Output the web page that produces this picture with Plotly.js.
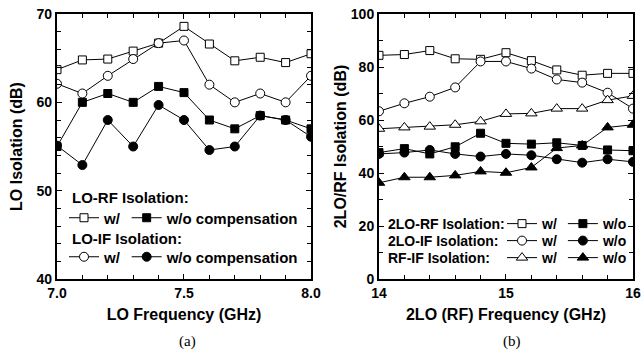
<!DOCTYPE html>
<html>
<head>
<meta charset="utf-8">
<script src="https://cdn.plot.ly/plotly-3.0.1.min.js"></script>
<style>html,body{margin:0;padding:0;background:#fff;}#chart{width:643px;height:350px;}</style>
</head>
<body>
<div id="chart"></div>
<script>
// (a) LO frequency sweep
const loFreq = [7.0, 7.1, 7.2, 7.3, 7.4, 7.5, 7.6, 7.7, 7.8, 7.9, 8.0];
const loRfWith    = [63.7, 64.8, 64.9, 65.8, 66.7, 68.6, 66.6, 64.7, 65.1, 64.5, 65.5];
const loRfWithout = [55.0, 60.0, 61.0, 60.0, 61.8, 61.1, 58.0, 57.0, 58.5, 58.0, 57.0];
const loIfWith    = [62.1, 61.0, 63.0, 64.9, 66.7, 67.0, 62.0, 60.0, 61.0, 60.0, 63.0];
const loIfWithout = [55.1, 52.9, 58.0, 55.0, 59.7, 58.0, 54.6, 55.0, 58.5, 58.0, 56.1];

// (b) 2LO (RF) frequency sweep
const rfFreq = [14.0, 14.2, 14.4, 14.6, 14.8, 15.0, 15.2, 15.4, 15.6, 15.8, 16.0];
const lo2RfWith    = [84.4, 84.7, 86.2, 83.1, 82.9, 85.4, 82.4, 78.9, 76.9, 77.6, 77.6];
const lo2RfWithout = [47.7, 49.2, 47.2, 49.9, 55.0, 51.2, 50.9, 51.4, 50.4, 48.7, 48.4];
const lo2IfWith    = [63.3, 66.3, 68.8, 72.3, 82.1, 82.1, 79.4, 75.3, 74.1, 70.3, 64.3];
const lo2IfWithout = [47.2, 47.7, 48.7, 47.2, 46.2, 47.2, 46.7, 45.2, 43.9, 45.2, 44.2];
const rfIfWith     = [56.7, 57.2, 57.5, 58.2, 59.5, 62.3, 62.5, 64.3, 64.3, 67.5, 69.1];
const rfIfWithout  = [36.3, 38.4, 38.4, 39.1, 40.6, 40.1, 42.1, 49.4, 50.4, 57.2, 58.2];

const FONT = 'Arial, "Liberation Sans", sans-serif';

function tr(x, y, name, symbol, filled, xa, ya, legend, size) {
  return {
    x: x, y: y, name: name, type: 'scatter', mode: 'lines+markers',
    xaxis: xa, yaxis: ya, legend: legend,
    line: {color: '#000', width: 1},
    marker: {symbol: symbol, size: size, color: filled ? '#000' : '#fff',
             line: {color: '#000', width: 1}}
  };
}

const data = [
  tr(loFreq, loRfWith, 'w/', 'square', false, 'x', 'y', 'legend', 8),
  tr(loFreq, loRfWithout, 'w/o compensation', 'square', true, 'x', 'y', 'legend', 8),
  tr(loFreq, loIfWith, 'w/', 'circle', false, 'x', 'y', 'legend2', 9),
  tr(loFreq, loIfWithout, 'w/o compensation', 'circle', true, 'x', 'y', 'legend2', 9),
  tr(rfFreq, lo2RfWith, 'w/', 'square', false, 'x2', 'y2', 'legend3', 8),
  tr(rfFreq, lo2RfWithout, 'w/o', 'square', true, 'x2', 'y2', 'legend3', 8),
  tr(rfFreq, lo2IfWith, 'w/', 'circle', false, 'x2', 'y2', 'legend4', 9),
  tr(rfFreq, lo2IfWithout, 'w/o', 'circle', true, 'x2', 'y2', 'legend4', 9),
  tr(rfFreq, rfIfWith, 'w/', 'triangle-up', false, 'x2', 'y2', 'legend5', 10),
  tr(rfFreq, rfIfWithout, 'w/o', 'triangle-up', true, 'x2', 'y2', 'legend5', 10)
];

const tickFont = {family: FONT, size: 14, color: '#000', weight: 'bold'};
const titleFont = {family: FONT, size: 16, color: '#000', weight: 'bold'};

function axis(extra) {
  return Object.assign({
    showline: true, linewidth: 2, linecolor: '#000', mirror: 'ticks',
    ticks: 'inside', ticklen: 5, tickwidth: 1, tickcolor: '#000',
    showgrid: false, zeroline: false, fixedrange: true,
    tickfont: tickFont, ticklabeloverflow: 'allow'
  }, extra);
}

function leg(x, y, size) {
  return {
    x: x, y: y, xanchor: 'left', yanchor: 'middle', orientation: 'h',
    bgcolor: 'rgba(0,0,0,0)', borderwidth: 0, itemwidth: 30,
    font: {family: FONT, size: size, color: '#000', weight: 'bold'},
    tracegroupgap: 0, itemclick: false, itemdoubleclick: false
  };
}

function note(text, x, y, size) {
  return {text: '<b>' + text + '</b>', x: x, y: y, xref: 'paper', yref: 'paper',
          xanchor: 'left', yanchor: 'middle', showarrow: false,
          font: {family: FONT, size: size, color: '#000'}};
}

const layout = {
  width: 643, height: 350,
  margin: {l: 0, r: 0, t: 14, b: 71},
  paper_bgcolor: '#fff', plot_bgcolor: '#fff',
  showlegend: true,
  xaxis: axis({domain: [0.0886, 0.4837], range: [7, 8], tick0: 7, dtick: 0.5, tickformat: '.1f',
    minor: {dtick: 0.1, ticks: 'inside', ticklen: 4, tickcolor: '#000', showgrid: false},
    anchor: 'y', title: {text: 'LO Frequency (GHz)', font: titleFont, standoff: 9}}),
  yaxis: axis({domain: [0, 1], range: [40, 70], dtick: 10,
    minor: {dtick: 2, ticks: 'inside', ticklen: 4, tickcolor: '#000', showgrid: false},
    anchor: 'x', title: {text: 'LO Isolation (dB)', font: titleFont, standoff: 10}}),
  xaxis2: axis({domain: [0.5894, 0.9844], range: [14, 16], dtick: 1,
    minor: {dtick: 0.2, ticks: 'inside', ticklen: 4, tickcolor: '#000', showgrid: false},
    anchor: 'y2', title: {text: '2LO (RF) Frequency (GHz)', font: titleFont, standoff: 9}}),
  yaxis2: axis({domain: [0, 1], range: [0, 100], dtick: 20,
    minor: {dtick: 10, ticks: 'inside', ticklen: 4, tickcolor: '#000', showgrid: false},
    anchor: 'x2', title: {text: '2LO/RF Isolation (dB)', font: titleFont, standoff: 0}}),
  legend: leg(64 / 643, 0.2302, 15),
  legend2: leg(64 / 643, 0.083, 15),
  legend3: leg(502 / 643, 0.2075, 14),
  legend4: leg(502 / 643, 0.1434, 14),
  legend5: leg(502 / 643, 0.0792, 14),
  annotations: [
    note('LO-RF Isolation:', 70 / 643, 0.3057, 15),
    note('LO-IF Isolation:', 70 / 643, 0.1547, 15),
    note('2LO-RF Isolation:', 386 / 643, 0.2075, 14),
    note('2LO-IF Isolation:', 386 / 643, 0.1434, 14),
    note('RF-IF Isolation:', 386 / 643, 0.0792, 14),
    {text: '(a)', x: 187 / 643, y: -0.237, xref: 'paper', yref: 'paper', xanchor: 'center', yanchor: 'middle',
     showarrow: false, font: {family: '"Liberation Serif", "Times New Roman", serif', size: 15, color: '#000'}},
    {text: '(b)', x: 512 / 643, y: -0.237, xref: 'paper', yref: 'paper', xanchor: 'center', yanchor: 'middle',
     showarrow: false, font: {family: '"Liberation Serif", "Times New Roman", serif', size: 15, color: '#000'}}
  ]
};

Plotly.newPlot('chart', data, layout, {displayModeBar: false, staticPlot: true});
</script>
</body>
</html>
